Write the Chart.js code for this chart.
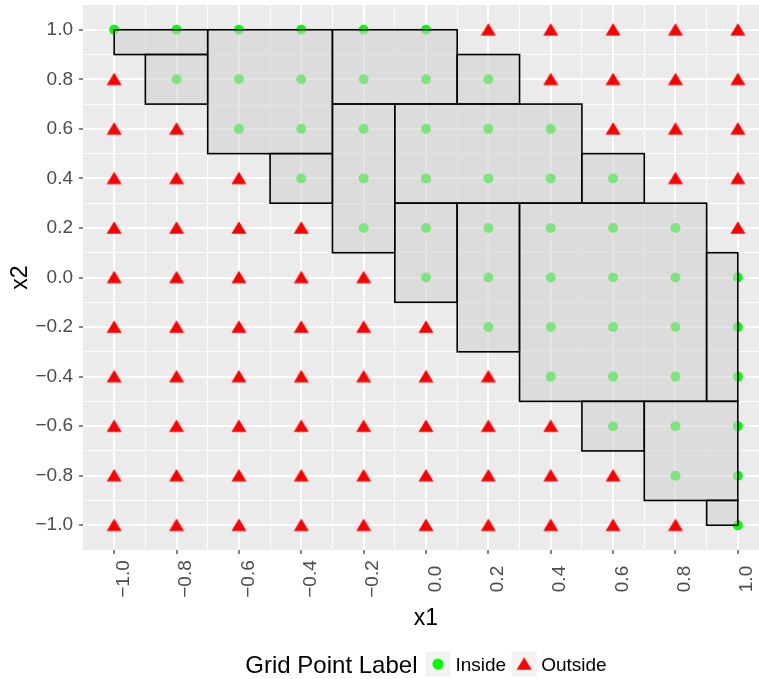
<!DOCTYPE html>
<html>
<head>
<meta charset="utf-8">
<script src="https://cdn.jsdelivr.net/npm/chart.js@4"></script>
<style>
  html, body { margin: 0; padding: 0; background: #ffffff; overflow: hidden; }
  canvas { display: block; }
</style>
</head>
<body>
<canvas id="grid-chart" width="790" height="679"></canvas>
<script>
// grid point coordinates
const x1Values = [-1.0, -0.8, -0.6, -0.4, -0.2, 0.0, 0.2, 0.4, 0.6, 0.8, 1.0];
const x2Values = [1.0, 0.8, 0.6, 0.4, 0.2, 0.0, -0.2, -0.4, -0.6, -0.8, -1.0];

// one string per x2 row, one letter per x1 column: I = Inside, O = Outside
const rowLabels = [
    'IIIIIIOOOOO',
    'OIIIIIIOOOO',
    'OOIIIIIIOOO',
    'OOOIIIIIIOO',
    'OOOOIIIIIIO',
    'OOOOOIIIIII',
    'OOOOOOIIIII',
    'OOOOOOOIIII',
    'OOOOOOOOIII',
    'OOOOOOOOOII',
    'OOOOOOOOOOI'
];

// boxes drawn over the grid
const rectX1Min = [-1.0, -0.9, -0.7, -0.5, -0.3, 0.1, -0.3, -0.1, 0.5, -0.1, 0.1, 0.3, 0.9, 0.5, 0.7, 0.9];
const rectX1Max = [-0.7, -0.7, -0.3, -0.3, 0.1, 0.3, -0.1, 0.5, 0.7, 0.1, 0.3, 0.9, 1.0, 0.7, 1.0, 1.0];
const rectX2Min = [0.9, 0.7, 0.5, 0.3, 0.7, 0.7, 0.1, 0.3, 0.3, -0.1, -0.3, -0.5, -0.5, -0.7, -0.9, -1.0];
const rectX2Max = [1.0, 0.9, 1.0, 0.5, 1.0, 0.9, 0.7, 0.7, 0.5, 0.3, 0.3, 0.3, 0.1, -0.5, -0.5, -0.9];

// axis ticks
const majorTicks = [-1.0, -0.8, -0.6, -0.4, -0.2, 0.0, 0.2, 0.4, 0.6, 0.8, 1.0];
const minorTicks = [-0.9, -0.7, -0.5, -0.3, -0.1, 0.1, 0.3, 0.5, 0.7, 0.9];
const tickLabels = ['\u22121.0', '\u22120.8', '\u22120.6', '\u22120.4', '\u22120.2', '0.0', '0.2', '0.4', '0.6', '0.8', '1.0'];

const legendTitle = 'Grid Point Label';
const seriesNames = ['Inside', 'Outside'];

const FONT = '"Liberation Sans", Arial, sans-serif';
const INSIDE_COLOR = '#00ff00';
const OUTSIDE_COLOR = '#ff0000';

const insidePoints = [];
const outsidePoints = [];
rowLabels.forEach((row, r) => {
    row.split('').forEach((c, k) => {
        const p = {x: x1Values[k], y: x2Values[r]};
        if (c === 'I') insidePoints.push(p); else outsidePoints.push(p);
    });
});

const allTicks = [...majorTicks, ...minorTicks].sort((a, b) => a - b);
const isMajor = v => majorTicks.includes(v);

// triangle marker, centred like the R one (a bit lower than chart.js's)
function makeTriangle() {
    const c = document.createElement('canvas');
    c.width = 16;
    c.height = 16;
    const g = c.getContext('2d');
    g.fillStyle = OUTSIDE_COLOR;
    g.beginPath();
    g.moveTo(8, 1.3);
    g.lineTo(15.5, 13.8);
    g.lineTo(0.5, 13.8);
    g.closePath();
    g.fill();
    return c;
}
const triangle = makeTriangle();

const gridOptions = {
    color: c => (c.tick && isMajor(c.tick.value)) ? '#ffffff' : 'rgba(255,255,255,0.85)',
    lineWidth: c => (c.tick && isMajor(c.tick.value)) ? 2 : 1,
    tickColor: c => (c.tick && isMajor(c.tick.value)) ? '#333333' : 'rgba(0,0,0,0)',
    tickWidth: 1.2,
    tickLength: 4,
    drawTicks: true
};

const panelBackground = {
    id: 'panelBackground',
    beforeDraw(chart) {
        const {ctx, chartArea: a} = chart;
        ctx.save();
        ctx.fillStyle = '#ebebeb';
        ctx.fillRect(a.left, a.top, a.right - a.left, a.bottom - a.top);
        ctx.restore();
    }
};

const boxes = {
    id: 'boxes',
    afterDatasetsDraw(chart) {
        const {ctx, scales: {x, y}} = chart;
        ctx.save();
        ctx.fillStyle = 'rgba(210,210,210,0.6)';
        ctx.strokeStyle = '#000000';
        ctx.lineWidth = 1.6;
        for (let i = 0; i < rectX1Min.length; i++) {
            const left = x.getPixelForValue(rectX1Min[i]);
            const right = x.getPixelForValue(rectX1Max[i]);
            const top = y.getPixelForValue(rectX2Max[i]);
            const bottom = y.getPixelForValue(rectX2Min[i]);
            ctx.fillRect(left, top, right - left, bottom - top);
            ctx.strokeRect(left, top, right - left, bottom - top);
        }
        ctx.restore();
    }
};

const extraText = {
    id: 'extraText',
    afterDraw(chart) {
        const {ctx, chartArea: a, scales: {x}} = chart;
        const cx = (a.left + a.right) / 2;
        const cy = (a.top + a.bottom) / 2;
        ctx.save();

        // rotated x tick labels
        ctx.font = '19px ' + FONT;
        ctx.fillStyle = '#4d4d4d';
        ctx.textAlign = 'center';
        ctx.textBaseline = 'alphabetic';
        majorTicks.forEach((v, i) => {
            const px = x.getPixelForValue(v);
            ctx.save();
            ctx.translate(px + 14.6, a.bottom + 29);
            ctx.rotate(-Math.PI / 2);
            ctx.fillText(tickLabels[i], 0, 0);
            ctx.restore();
        });

        // axis titles
        ctx.fillStyle = '#000000';
        ctx.font = '23px ' + FONT;
        ctx.fillText('x1', cx, a.bottom + 75);
        ctx.save();
        ctx.translate(27, cy);
        ctx.rotate(-Math.PI / 2);
        ctx.fillText('x2', 0, 0);
        ctx.restore();

        // legend
        ctx.textAlign = 'left';
        ctx.font = '24px ' + FONT;
        const titleW = ctx.measureText(legendTitle).width;
        ctx.font = '19px ' + FONT;
        const insideW = ctx.measureText(seriesNames[0]).width;
        const outsideW = ctx.measureText(seriesNames[1]).width;
        const key = 25;
        const total = titleW + 8 + key + 5 + insideW + 5.5 + key + 4.5 + outsideW;
        const keyY = 664;
        let lx = cx - total / 2;

        ctx.font = '24px ' + FONT;
        ctx.fillText(legendTitle, lx, keyY + 9);
        lx += titleW + 8;

        ctx.fillStyle = '#f2f2f2';
        ctx.fillRect(lx, keyY - key / 2, key, key);
        ctx.fillStyle = INSIDE_COLOR;
        ctx.beginPath();
        ctx.arc(lx + key / 2, keyY, 5.5, 0, Math.PI * 2);
        ctx.fill();
        lx += key + 5;

        ctx.fillStyle = '#000000';
        ctx.font = '19px ' + FONT;
        ctx.fillText(seriesNames[0], lx, keyY + 7);
        lx += insideW + 5.5;

        ctx.fillStyle = '#f2f2f2';
        ctx.fillRect(lx, keyY - key / 2, key, key);
        ctx.drawImage(triangle, lx + key / 2 - 8, keyY - 8);
        lx += key + 4.5;

        ctx.fillStyle = '#000000';
        ctx.fillText(seriesNames[1], lx, keyY + 7);

        ctx.restore();
    }
};

new Chart(document.querySelector('#grid-chart').getContext('2d'), {
    type: 'scatter',
    data: {
        datasets: [{
            label: seriesNames[0],
            data: insidePoints,
            pointStyle: 'circle',
            pointRadius: 5,
            pointBorderWidth: 0,
            backgroundColor: INSIDE_COLOR,
            borderColor: INSIDE_COLOR
        }, {
            label: seriesNames[1],
            data: outsidePoints,
            pointStyle: triangle,
            backgroundColor: OUTSIDE_COLOR,
            borderColor: OUTSIDE_COLOR
        }]
    },
    options: {
        responsive: false,
        animation: false,
        layout: {padding: {top: 4, right: 21, left: 0, bottom: 0}},
        plugins: {
            legend: {display: false},
            tooltip: {enabled: false}
        },
        scales: {
            x: {
                type: 'linear',
                min: -1.1,
                max: 1.1,
                afterBuildTicks: s => { s.ticks = allTicks.map(v => ({value: v})); },
                afterFit: s => { s.height = 129; s.paddingLeft = 0; s.paddingRight = 0; },
                ticks: {display: false, autoSkip: false},
                grid: gridOptions,
                border: {display: false}
            },
            y: {
                type: 'linear',
                min: -1.1,
                max: 1.1,
                afterBuildTicks: s => { s.ticks = allTicks.map(v => ({value: v})); },
                afterFit: s => { s.width = 83; s.paddingTop = 0; s.paddingBottom = 0; },
                ticks: {
                    autoSkip: false,
                    padding: 6,
                    color: '#4d4d4d',
                    font: {family: FONT, size: 19},
                    callback: v => {
                        const i = majorTicks.indexOf(v);
                        return i >= 0 ? tickLabels[i] : '';
                    }
                },
                grid: gridOptions,
                border: {display: false}
            }
        }
    },
    plugins: [panelBackground, boxes, extraText]
});
</script>
</body>
</html>
